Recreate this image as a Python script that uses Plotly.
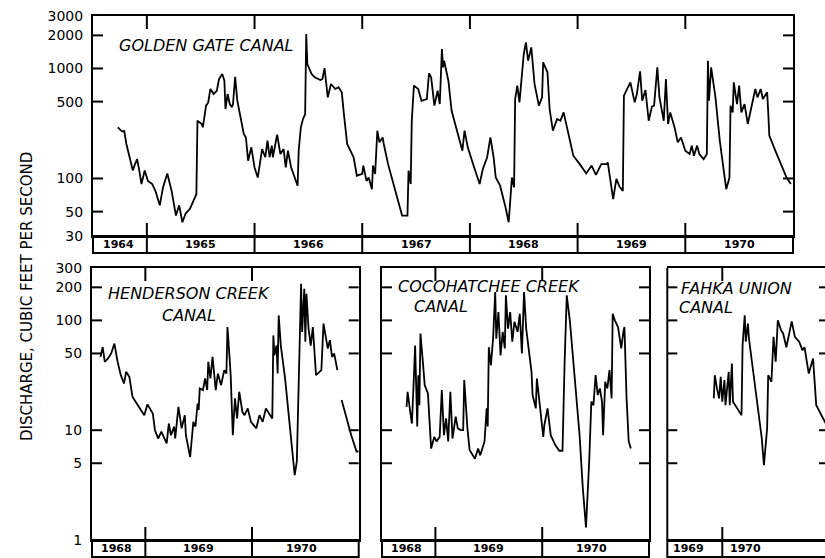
import math
import plotly.graph_objects as go

W, H = 825, 558

# ---------------- data (decimal year, discharge in cfs) ----------------
gg_year = [
    1964.73, 1964.77, 1964.79, 1964.81, 1964.84, 1964.87, 1964.89, 1964.91, 1964.93, 1964.95,
    1964.98, 1965.01, 1965.05, 1965.08, 1965.12, 1965.15, 1965.19, 1965.23, 1965.27, 1965.30,
    1965.33, 1965.36, 1965.40, 1965.43, 1965.46, 1965.47, 1965.51, 1965.52, 1965.55, 1965.57,
    1965.59, 1965.62, 1965.65, 1965.67, 1965.70, 1965.72, 1965.73, 1965.75, 1965.77, 1965.79,
    1965.80, 1965.82, 1965.84, 1965.87, 1965.90, 1965.92, 1965.94, 1965.97, 1966.00, 1966.03,
    1966.07, 1966.10, 1966.12, 1966.14, 1966.16, 1966.17, 1966.21, 1966.24, 1966.27, 1966.29,
    1966.31, 1966.34, 1966.40, 1966.41, 1966.43, 1966.45, 1966.47, 1966.48, 1966.49, 1966.53,
    1966.56, 1966.61, 1966.63, 1966.65, 1966.66, 1966.68, 1966.71, 1966.75, 1966.78, 1966.81,
    1966.83, 1966.86, 1966.89, 1966.92, 1966.95, 1967.00, 1967.01, 1967.04, 1967.06, 1967.09,
    1967.10, 1967.12, 1967.14, 1967.16, 1967.19, 1967.20, 1967.24, 1967.29, 1967.33, 1967.37,
    1967.42, 1967.43, 1967.45, 1967.46, 1967.48, 1967.52, 1967.55, 1967.60, 1967.62, 1967.64,
    1967.67, 1967.70, 1967.72, 1967.74, 1967.75, 1967.76, 1967.80, 1967.83, 1967.88, 1967.93,
    1967.95, 1967.98, 1968.03, 1968.09, 1968.12, 1968.16, 1968.19, 1968.22, 1968.24, 1968.28,
    1968.33, 1968.36, 1968.39, 1968.41, 1968.42, 1968.44, 1968.46, 1968.50, 1968.52, 1968.54,
    1968.57, 1968.60, 1968.64, 1968.67, 1968.68, 1968.72, 1968.74, 1968.77, 1968.81, 1968.84,
    1968.87, 1968.90, 1968.96, 1969.02, 1969.08, 1969.13, 1969.17, 1969.22, 1969.27, 1969.28,
    1969.33, 1969.36, 1969.39, 1969.42, 1969.43, 1969.49, 1969.53, 1969.55, 1969.58, 1969.60,
    1969.63, 1969.66, 1969.69, 1969.71, 1969.74, 1969.76, 1969.80, 1969.82, 1969.84, 1969.86,
    1969.90, 1969.93, 1969.96, 1970.00, 1970.04, 1970.06, 1970.08, 1970.11, 1970.13, 1970.17,
    1970.20, 1970.21, 1970.22, 1970.24, 1970.25, 1970.28, 1970.32, 1970.35, 1970.38, 1970.41,
    1970.42, 1970.44, 1970.45, 1970.48, 1970.50, 1970.52, 1970.55, 1970.58, 1970.62, 1970.65,
    1970.67, 1970.70, 1970.72, 1970.76, 1970.77, 1970.78, 1970.83, 1970.89, 1970.94, 1970.98,
]
gg_cfs = [
    292, 268, 270, 206, 156, 118, 135, 150, 118, 89,
    118, 95, 89, 77, 57, 83, 111, 77, 46, 57,
    40, 48, 53, 63, 72, 335, 313, 292, 459, 492,
    651, 586, 628, 802, 891, 774, 428, 586, 475, 444,
    475, 841, 509, 360, 254, 236, 145, 192, 126, 102,
    185, 156, 221, 156, 199, 156, 250, 167, 185, 126,
    179, 126, 86, 179, 292, 347, 385, 2056, 1098, 891,
    830, 785, 802, 1009, 774, 547, 723, 651, 675, 607,
    385, 206, 179, 156, 106, 110, 131, 95, 102, 80,
    131, 110, 272, 213, 236, 206, 135, 89, 61, 46,
    46, 118, 89, 335, 698, 651, 509, 528, 903, 830,
    459, 628, 475, 1503, 1024, 1177, 774, 413, 272, 179,
    272, 192, 135, 89, 122, 156, 236, 156, 102, 86,
    55, 40, 102, 83, 528, 698, 492, 1355, 1730, 1177,
    1556, 723, 459, 547, 1138, 923, 428, 272, 347, 335,
    399, 292, 161, 135, 111, 131, 108, 135, 135, 140,
    65, 99, 84, 77, 566, 748, 492, 586, 942, 509,
    637, 335, 450, 459, 1024, 547, 335, 802, 313, 399,
    292, 213, 236, 179, 167, 199, 161, 199, 167, 150,
    167, 1177, 509, 1024, 891, 547, 221, 140, 80, 102,
    459, 399, 748, 475, 698, 399, 475, 313, 475, 651,
    547, 651, 528, 607, 399, 245, 185, 135, 102, 89,
]

hc_year = [
    1968.58, 1968.60, 1968.62, 1968.65, 1968.68, 1968.71, 1968.74, 1968.77, 1968.80, 1968.82,
    1968.85, 1968.88, 1968.93, 1968.99, 1969.02, 1969.07, 1969.09, 1969.12, 1969.15, 1969.20,
    1969.22, 1969.24, 1969.27, 1969.28, 1969.31, 1969.34, 1969.37, 1969.38, 1969.42, 1969.45,
    1969.47, 1969.49, 1969.50, 1969.51, 1969.54, 1969.56, 1969.58, 1969.59, 1969.61, 1969.63,
    1969.66, 1969.68, 1969.71, 1969.74, 1969.76, 1969.77, 1969.79, 1969.80, 1969.82, 1969.84,
    1969.86, 1969.88, 1969.91, 1969.93, 1969.96, 1969.99, 1970.04, 1970.07, 1970.10, 1970.13,
    1970.17, 1970.19, 1970.20, 1970.21, 1970.23, 1970.24, 1970.25, 1970.27, 1970.31, 1970.35,
    1970.40, 1970.42, 1970.44, 1970.46, 1970.47, 1970.49, 1970.50, 1970.51, 1970.53, 1970.55,
    1970.57, 1970.60, 1970.65, 1970.67, 1970.71, 1970.73, 1970.75, 1970.77, 1970.80, 1970.82,
    1970.84, 1970.93, 1970.98, 1971.00,
]
hc_cfs = [
    46.5, 57, 42, 45, 50, 61.5, 42, 31.7, 26.6, 34,
    30.6, 20.1, 16.9, 13.7, 17.2, 14.2, 10, 8.4, 9.7, 7.6,
    11.5, 9.0, 10.8, 8.4, 16.3, 10.4, 13.7, 9.0, 5.7, 11.9,
    10.8, 17.5, 15.3, 24, 23.2, 29.6, 23.2, 42, 29.6, 46.5,
    23.2, 32.8, 25.7, 35.2, 32.8, 87, 45, 31.7, 9.0, 19.5,
    12.8, 22.4, 14.7, 13.7, 15.8, 11.9, 10.4, 13.7, 11.9, 15.8,
    13.7, 12.8, 73, 48, 59, 32.8, 111, 59, 29.6, 11.9,
    3.9, 5.2, 36.5, 216, 78.5, 194, 64, 175, 84, 59,
    87, 31.7, 35.2, 93.5, 55.5, 66, 46.5, 50, 35.2, None,
    18.8, 9.0, 6.4, 6.4,
]

cc_year = [
    1968.73, 1968.74, 1968.76, 1968.77, 1968.78, 1968.80, 1968.81, 1968.83, 1968.84, 1968.85,
    1968.86, 1968.88, 1968.90, 1968.93, 1968.96, 1968.99, 1969.01, 1969.04, 1969.06, 1969.08,
    1969.10, 1969.12, 1969.14, 1969.16, 1969.19, 1969.21, 1969.24, 1969.26, 1969.27, 1969.30,
    1969.32, 1969.37, 1969.40, 1969.42, 1969.46, 1969.48, 1969.49, 1969.50, 1969.52, 1969.54,
    1969.56, 1969.57, 1969.59, 1969.61, 1969.63, 1969.65, 1969.66, 1969.68, 1969.70, 1969.72,
    1969.74, 1969.77, 1969.79, 1969.81, 1969.83, 1969.85, 1969.87, 1969.90, 1969.91, 1969.94,
    1969.95, 1969.98, 1970.01, 1970.02, 1970.05, 1970.08, 1970.12, 1970.16, 1970.19, 1970.21,
    1970.23, 1970.26, 1970.30, 1970.35, 1970.38, 1970.41, 1970.44, 1970.46, 1970.48, 1970.50,
    1970.52, 1970.54, 1970.56, 1970.57, 1970.59, 1970.61, 1970.63, 1970.65, 1970.66, 1970.68,
    1970.71, 1970.74, 1970.76, 1970.77, 1970.79, 1970.81, 1970.83,
]
cc_cfs = [
    16.3, 22.4, 15.8, 13.7, 11.5, 32.8, 59, 10.8, 31.7, 16.9,
    76, 45, 25.7, 21.6, 6.8, 8.7, 7.9, 8.7, 23.2, 9.0,
    12.8, 7.9, 22.4, 8.4, 13.3, 10.4, 10, 10, 28.6, 10.4,
    6.6, 5.5, 6.8, 5.9, 7.9, 15.8, 10.8, 57, 39, 68,
    181, 68, 119, 48, 78.5, 55.5, 169, 84, 119, 64,
    97, 78.5, 115, 50, 181, 84, 57, 34, 20.9, 15.8,
    29.6, 16.9, 8.7, 11.1, 15.8, 9.0, 7.4, 6.5, 6.5, 42,
    169, 97, 34, 9.0, 3.0, 1.3, 5.2, 18.2, 16.9, 31.7,
    20.9, 24, 18.2, 9.0, 27.6, 24, 35.2, 19.5, 115, 100,
    87, 55.5, 78.5, 87, 19.5, 7.9, 6.8,
]

fu_year = [
    1969.92, 1969.93, 1969.95, 1969.97, 1969.985, 1970.00, 1970.02, 1970.03, 1970.06, 1970.07,
    1970.09, 1970.10, 1970.14, 1970.18, 1970.19, 1970.21, 1970.22, 1970.24, 1970.25, 1970.32,
    1970.37, 1970.39, 1970.42, 1970.43, 1970.46, 1970.48, 1970.50, 1970.52, 1970.55, 1970.57,
    1970.60, 1970.63, 1970.65, 1970.68, 1970.72, 1970.75, 1970.77, 1970.81, 1970.83, 1970.85,
    1970.88, 1970.91, 1970.95, 1970.98,
]
fu_cfs = [
    19.5, 31.7, 24, 19.5, 30.6, 18.2, 28.6, 16.9, 34, 16.9,
    40.5, 18.2, 15.8, 13.7, 59, 111, 64, 93.5, 68, 20.9,
    8.4, 4.8, 10.4, 31.7, 27.6, 70.8, 42, 100, 81.5, 76,
    57, 78.5, 98, 70.8, 64, 53.6, 57, 32.8, 39, 45,
    16.9, 14.7, 12.4, 11,
]

top_ticks = [30, 50, 100, 500, 1000, 2000, 3000]
bottom_ticks = [1, 5, 10, 50, 100, 200, 300]
years = [1964, 1965, 1966, 1967, 1968, 1969, 1970]

assert len(gg_year) == len(gg_cfs)
assert len(hc_year) == len(hc_cfs)
assert len(cc_year) == len(cc_cfs)
assert len(fu_year) == len(fu_cfs)

# ---------------- layout helpers ----------------
def fx(px):
    return px / W


def fy(py):
    return 1 - py / H


STRIP = 17      # height of the year strip, px
YTICK = 10      # length of value ticks, px
XTICK = 13      # length of year ticks, px
FONT = "DejaVu Sans"
BLACK = dict(color="black", width=2)

panels = [
    dict(ax="", x=gg_year, y=gg_cfs, xpx=(93, 793), ypx=(16, 236), right_px=793,
         xr=(1964.5, 1971.0), yr=(30, 3000), ticks=top_ticks, labels=True,
         yline=True, ylab=[(1964, 1964.74), (1965, 1965.5), (1966, 1966.5),
                           (1967, 1967.5), (1968, 1968.5), (1969, 1969.5), (1970, 1970.5)]),
    dict(ax="2", x=hc_year, y=hc_cfs, xpx=(92, 358.7), ypx=(268, 540), right_px=358.7,
         xr=(1968.5, 1971.0), yr=(1, 300), ticks=bottom_ticks, labels=True,
         yline=True, ylab=[(1968, 1968.73), (1969, 1969.5), (1970, 1970.46)]),
    dict(ax="3", x=cc_year, y=cc_cfs, xpx=(382, 649), ypx=(268, 540), right_px=649,
         xr=(1968.5, 1971.0), yr=(1, 300), ticks=bottom_ticks, labels=False,
         yline=True, ylab=[(1968, 1968.73), (1969, 1969.5), (1970, 1970.46)]),
    dict(ax="4", x=fu_year, y=fu_cfs, xpx=(667.3, 825), ypx=(268, 540), right_px=829,
         xr=(1969.485, 1970.962), yr=(1, 300), ticks=bottom_ticks, labels=False,
         yline=False, ylab=[(1969, 1969.68), (1970, 1970.22)]),
]

fig = go.Figure()
shapes = []
annotations = []
layout = {}

for p in panels:
    a = p["ax"]
    xname, yname = "x" + a, "y" + a
    fig.add_trace(go.Scatter(
        x=p["x"], y=p["y"], mode="lines", xaxis=xname, yaxis=yname,
        line=dict(color="black", width=1.8), connectgaps=False,
        hoverinfo="skip", showlegend=False))

    plot_w = p["xpx"][1] - p["xpx"][0]
    plot_h = p["ypx"][1] - p["ypx"][0]
    boundaries = [yv for yv in years + [1971] if p["xr"][0] < yv < p["xr"][1]]

    layout["xaxis" + a] = dict(
        domain=[fx(p["xpx"][0]), fx(p["xpx"][1])], range=list(p["xr"]),
        anchor=yname, showticklabels=False, ticks="",
        showline=True, linewidth=2, linecolor="black", mirror=True,
        showgrid=False, zeroline=False, fixedrange=True)
    layout["yaxis" + a] = dict(
        domain=[fy(p["ypx"][1]), fy(p["ypx"][0])], type="log",
        range=[math.log10(p["yr"][0]), math.log10(p["yr"][1])],
        anchor=xname, tickmode="array", tickvals=p["ticks"],
        ticktext=[str(t) for t in p["ticks"]],
        showticklabels=p["labels"], tickfont=dict(family=FONT, size=14, color="black"),
        ticks="", ticklabelstandoff=5,
        showline=p["yline"], linewidth=2, linecolor="black", mirror=p["yline"],
        showgrid=False, zeroline=False, fixedrange=True)

    if not p["yline"]:
        shapes.append(dict(type="line", xref=xname + " domain", yref=yname + " domain",
                           x0=0, x1=0, y0=0, y1=1, line=BLACK))

    # inside value ticks on the left and right frame
    right_edge = (p["right_px"] - p["xpx"][0]) / plot_w
    for t in p["ticks"][1:-1]:
        shapes.append(dict(type="line", xref=xname + " domain", yref=yname,
                           x0=0, x1=YTICK / plot_w, y0=t, y1=t, line=BLACK))
        shapes.append(dict(type="line", xref=xname + " domain", yref=yname,
                           x0=right_edge - YTICK / plot_w, x1=right_edge, y0=t, y1=t,
                           line=BLACK))

    # year strip below each panel
    s = STRIP / plot_h
    shapes.append(dict(type="rect", xref=xname + " domain", yref=yname + " domain",
                       x0=0, x1=1 if p["yline"] else 1.05, y0=-s, y1=0,
                       line=BLACK, fillcolor="rgba(0,0,0,0)"))
    for b in boundaries:
        # divider through the strip plus the inside tick above it
        shapes.append(dict(type="line", xref=xname, yref=yname + " domain",
                           x0=b, x1=b, y0=-s, y1=XTICK / plot_h, line=BLACK))
        # inside tick at the top frame
        shapes.append(dict(type="line", xref=xname, yref=yname + " domain",
                           x0=b, x1=b, y0=1 - XTICK / plot_h, y1=1, line=BLACK))
    for label, xpos in p["ylab"]:
        annotations.append(dict(text=str(label), x=xpos, y=-s / 2, xref=xname,
                                yref=yname + " domain", showarrow=False,
                                xanchor="center", yanchor="middle",
                                font=dict(family=FONT, size=11, color="black", weight="bold")))

# panel titles
title_font = dict(family=FONT, size=16, color="black", style="italic")
titles = [
    ("GOLDEN GATE CANAL", 117, 45, "left"),
    ("HENDERSON CREEK", 189, 293, "center"),
    ("CANAL", 189, 315, "center"),
    ("COCOHATCHEE CREEK", 396, 286, "left"),
    ("CANAL", 412, 306, "left"),
    ("FAHKA UNION", 679, 289, "left"),
    ("CANAL", 677, 307, "left"),
]
for text, xp, yp, anchor in titles:
    annotations.append(dict(text=text, x=fx(xp), y=fy(yp), xref="paper", yref="paper",
                            showarrow=False, xanchor=anchor, yanchor="middle",
                            font=title_font))

annotations.append(dict(text="DISCHARGE, CUBIC FEET PER SECOND", x=fx(27), y=fy(297),
                        xref="paper", yref="paper", showarrow=False, textangle=-90,
                        xanchor="center", yanchor="middle",
                        font=dict(family=FONT, size=15, color="black")))

fig.update_layout(
    width=W, height=H, margin=dict(l=0, r=0, t=0, b=0, autoexpand=False),
    paper_bgcolor="white", plot_bgcolor="white",
    showlegend=False, shapes=shapes, annotations=annotations, **layout)

fig.write_html(
    "out.html",
    config={"displayModeBar": False},
    post_script="document.body.style.margin='0';document.body.style.overflow='hidden';")
